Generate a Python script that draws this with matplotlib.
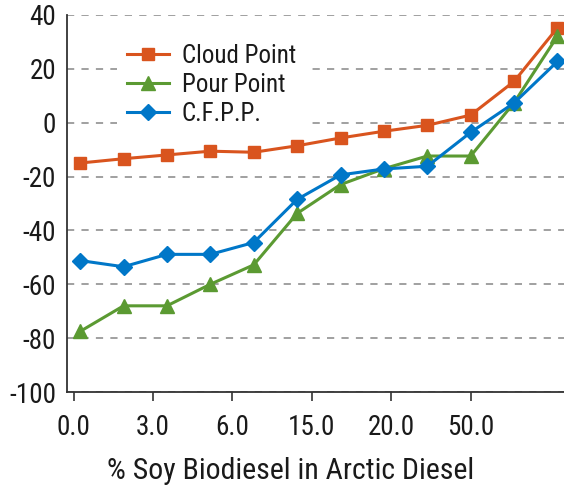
import numpy as np
import matplotlib
matplotlib.use("Agg")
import matplotlib.pyplot as plt

# values (12 blends, °C)
tick_labels = ["0.0", "3.0", "6.0", "15.0", "20.0", "50.0"]
cloud_point = [-15, -13.4, -12, -10.6, -11, -8.6, -5.7, -3.2, -1.0, 2.8, 15.3, 35.2]
pour_point = [-77.5, -68, -68, -60, -52.8, -33.7, -23, -17.1, -12.4, -12.4, 7.4, 32.1]
cfpp = [-51.2, -53.5, -48.9, -48.9, -44.5, -28.5, -19.4, -17.2, -16.2, -3.6, 7.3, 22.7]

ORANGE, GREEN, BLUE = "#D9541E", "#5B9A32", "#0077C8"
TXT = "#1a1a1a"

plt.rcParams["font.family"] = ["Roboto Condensed", "DejaVu Sans"]
plt.rcParams["axes.unicode_minus"] = False

fig = plt.figure(figsize=(5.64, 4.95), dpi=100)
ax = fig.add_axes([0.119, 0.208, 0.881, 0.762])

x = np.arange(len(cloud_point))
ax.plot(x, cloud_point, color=ORANGE, lw=2.2, marker="s", ms=8.5,
        label="Cloud Point", zorder=3)
ax.plot(x, pour_point, color=GREEN, lw=2.2, marker="^", ms=9.5,
        label="Pour Point", zorder=3)
ax.plot(x, cfpp, color=BLUE, lw=2.2, marker="D", ms=8.5,
        label="C.F.P.P.", zorder=4)

ax.set_xlim(-0.30, 11.15)
ax.set_ylim(-100, 40)
ax.set_yticks(np.arange(-100, 41, 20))
# category labels sit on their own, evenly spaced ticks
ax.set_xticks(np.arange(len(tick_labels)) * 1.83 - 0.15)
ax.set_xticklabels(tick_labels)

ax.tick_params(axis="both", labelsize=19.5, labelcolor=TXT)
ax.tick_params(axis="y", length=0, pad=8)
ax.tick_params(axis="x", length=6.5, width=1.2, color="#333333", pad=9)

ax.grid(axis="y", color="#999999", ls=(0, (4, 4)), lw=1.3)
ax.set_axisbelow(True)
for s in ("top", "right"):
    ax.spines[s].set_visible(False)
for s in ("left", "bottom"):
    ax.spines[s].set_color("#333333")
    ax.spines[s].set_linewidth(1.3)

ax.set_xlabel("% Soy Biodiesel in Arctic Diesel", fontsize=21.5, color=TXT)
ax.xaxis.set_label_coords(0.45, -0.172)

leg = ax.legend(loc="upper left", bbox_to_anchor=(0.10, 0.95),
                fontsize=18, handlelength=1.7, handletextpad=0.5,
                labelspacing=0.2, frameon=True, fancybox=False,
                borderpad=0.4, borderaxespad=0)
leg.get_frame().set_edgecolor("none")
leg.get_frame().set_facecolor("white")
leg.get_frame().set_alpha(1)
for t in leg.get_texts():
    t.set_color(TXT)

fig.savefig("out.png", dpi=100)
